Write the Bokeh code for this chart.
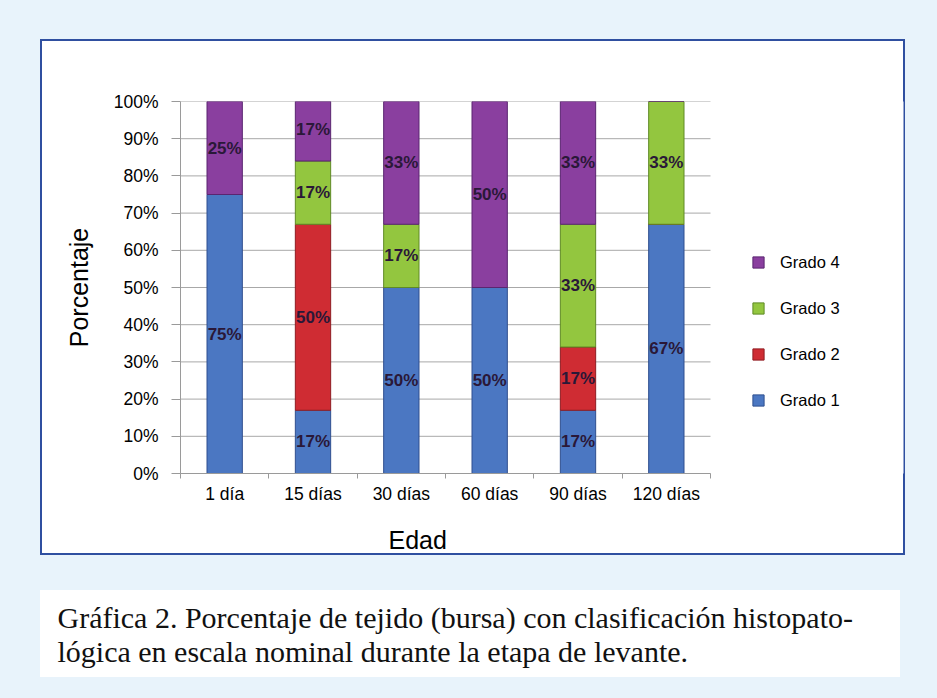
from bokeh.plotting import figure
from bokeh.models import (ColumnDataSource, FixedTicker, NumeralTickFormatter, Legend,
                          LegendItem, Title, Range1d)
from bokeh.core.properties import value
from bokeh.embed import file_html
from bokeh.resources import INLINE

categories = ["1 día", "15 días", "30 días", "60 días", "90 días", "120 días"]
grado1 = [75, 17, 50, 50, 17, 67]
grado2 = [0, 50, 0, 0, 17, 0]
grado3 = [0, 17, 17, 0, 33, 33]
grado4 = [25, 17, 33, 50, 33, 0]
series_names = ["Grado 1", "Grado 2", "Grado 3", "Grado 4"]
series_values = [grado1, grado2, grado3, grado4]
colors = ["#4b77c2", "#cf2c33", "#93c63f", "#8a3f9f"]
edges = ["#2f4f8f", "#8f1c22", "#5f8a25", "#5a2570"]
y_ticks = [0, 0.1, 0.2, 0.3, 0.4, 0.5, 0.6, 0.7, 0.8, 0.9, 1.0]
x_title = "Edad"
y_title = "Porcentaje"
caption_text = ("Gráfica 2. Porcentaje de tejido (bursa) con clasificación histopato-\n"
                "lógica en escala nominal durante la etapa de levante.")

W, H = 937, 698
FL, FR, FT, FB = 180, 903, 101, 473      # frame (extends over the legend area)
CAT_PX = 530 / 6                          # pixel width of one category slot
n = len(categories)
xpos = [i + 0.5 for i in range(n)]

page_bg = ("linear-gradient(white,white) 42px 41px / 861px 512px no-repeat, "
           "linear-gradient(#2f4fa0,#2f4fa0) 40px 39px / 865px 516px no-repeat, "
           "linear-gradient(white,white) 40px 590px / 860px 87px no-repeat, "
           "#e8f3fb")

data = {"x": xpos}
for name, vals in zip(series_names, series_values):
    data[name] = [v / 100.0 for v in vals]
source = ColumnDataSource(data)

p = figure(x_range=Range1d(0, (FR - FL) / CAT_PX), y_range=Range1d(0, 1.0),
           width=W, height=H, output_backend="svg", toolbar_location=None,
           min_border_left=FL, min_border_right=W - FR,
           min_border_top=FT, min_border_bottom=H - FB,
           styles={"background": page_bg})
p.border_fill_alpha = 0
p.background_fill_color = "white"
p.outline_line_color = None
p.xgrid.grid_line_color = None
p.ygrid.grid_line_color = None

# horizontal grid lines limited to the category area
p.segment(x0=[0] * len(y_ticks), x1=[n] * len(y_ticks), y0=y_ticks, y1=y_ticks,
          line_color="#a8a8a8", line_width=1)

renderers = p.vbar_stack(series_names, x="x", width=0.4, source=source,
                         color=colors, line_color=edges, line_width=1)

lx, ly, lt = [], [], []
for i in range(n):
    base = 0.0
    for vals in series_values:
        v = vals[i] / 100.0
        if v > 0:
            lx.append(xpos[i])
            ly.append(base + v / 2)
            lt.append(f"{vals[i]}%")
        base += v
lab_src = ColumnDataSource(dict(x=lx, y=ly, t=lt))
p.text(x="x", y="y", text="t", source=lab_src, text_align="center",
       text_baseline="middle", text_font=value("Liberation Sans"),
       text_font_size="17px", text_font_style="bold", text_color="#2a1838")

p.yaxis.ticker = FixedTicker(ticks=y_ticks)
p.yaxis.formatter = NumeralTickFormatter(format="0%")
p.yaxis.axis_label = y_title
p.xaxis.ticker = FixedTicker(ticks=xpos, minor_ticks=list(range(n + 1)))
p.xaxis.major_label_overrides = {x: c for x, c in zip(xpos, categories)}
p.xaxis.bounds = (0, n)
for ax in (p.xaxis[0], p.yaxis[0]):
    ax.axis_line_color = "#9a9a9a"
    ax.major_tick_line_color = "#9a9a9a"
    ax.minor_tick_line_color = None
    ax.major_tick_in = 0
    ax.major_tick_out = 9
    ax.major_label_text_font = "Liberation Sans"
    ax.major_label_text_color = "black"
    ax.axis_label_text_font = "Liberation Sans"
    ax.axis_label_text_font_style = "normal"
    ax.axis_label_text_font_size = "25px"
    ax.axis_label_text_color = "black"
p.yaxis.major_label_text_font_size = "17.5px"
p.yaxis.major_label_standoff = 13
p.yaxis.axis_label_standoff = 18
p.xaxis.major_label_text_font = "Liberation Sans Narrow, Liberation Sans"
p.xaxis.major_label_text_font_size = "17.5px"
p.xaxis.major_tick_out = 0
p.xaxis.major_tick_line_color = None
p.xaxis.minor_tick_line_color = "#9a9a9a"
p.xaxis.minor_tick_in = 0
p.xaxis.minor_tick_out = 5
p.xaxis.major_label_standoff = 5

items = [LegendItem(label=nm, renderers=[r]) for nm, r in zip(series_names, renderers)][::-1]
legend = Legend(items=items, location=(571, 63), orientation="vertical",
                label_text_font="Liberation Sans", label_text_font_size="16.5px",
                label_text_color="black", glyph_width=14, glyph_height=14,
                label_height=20, spacing=26, padding=0, margin=0,
                label_standoff=15, border_line_color=None, background_fill_alpha=0)
p.add_layout(legend)

# x-axis title (placed over the category area) and caption, stacked below the axis
p.add_layout(Title(text=x_title, align="left", offset=208, standoff=34,
                   text_font="Liberation Sans", text_font_size="25px",
                   text_font_style="normal", text_color="black"), "below")
p.add_layout(Title(text=caption_text, align="left", offset=57 - FL, standoff=58,
                   text_font="Liberation Serif", text_font_size="30px",
                   text_font_style="normal", text_color="#111111",
                   text_line_height=1.04), "below")

open("out.html", "w").write(file_html(p, INLINE))
